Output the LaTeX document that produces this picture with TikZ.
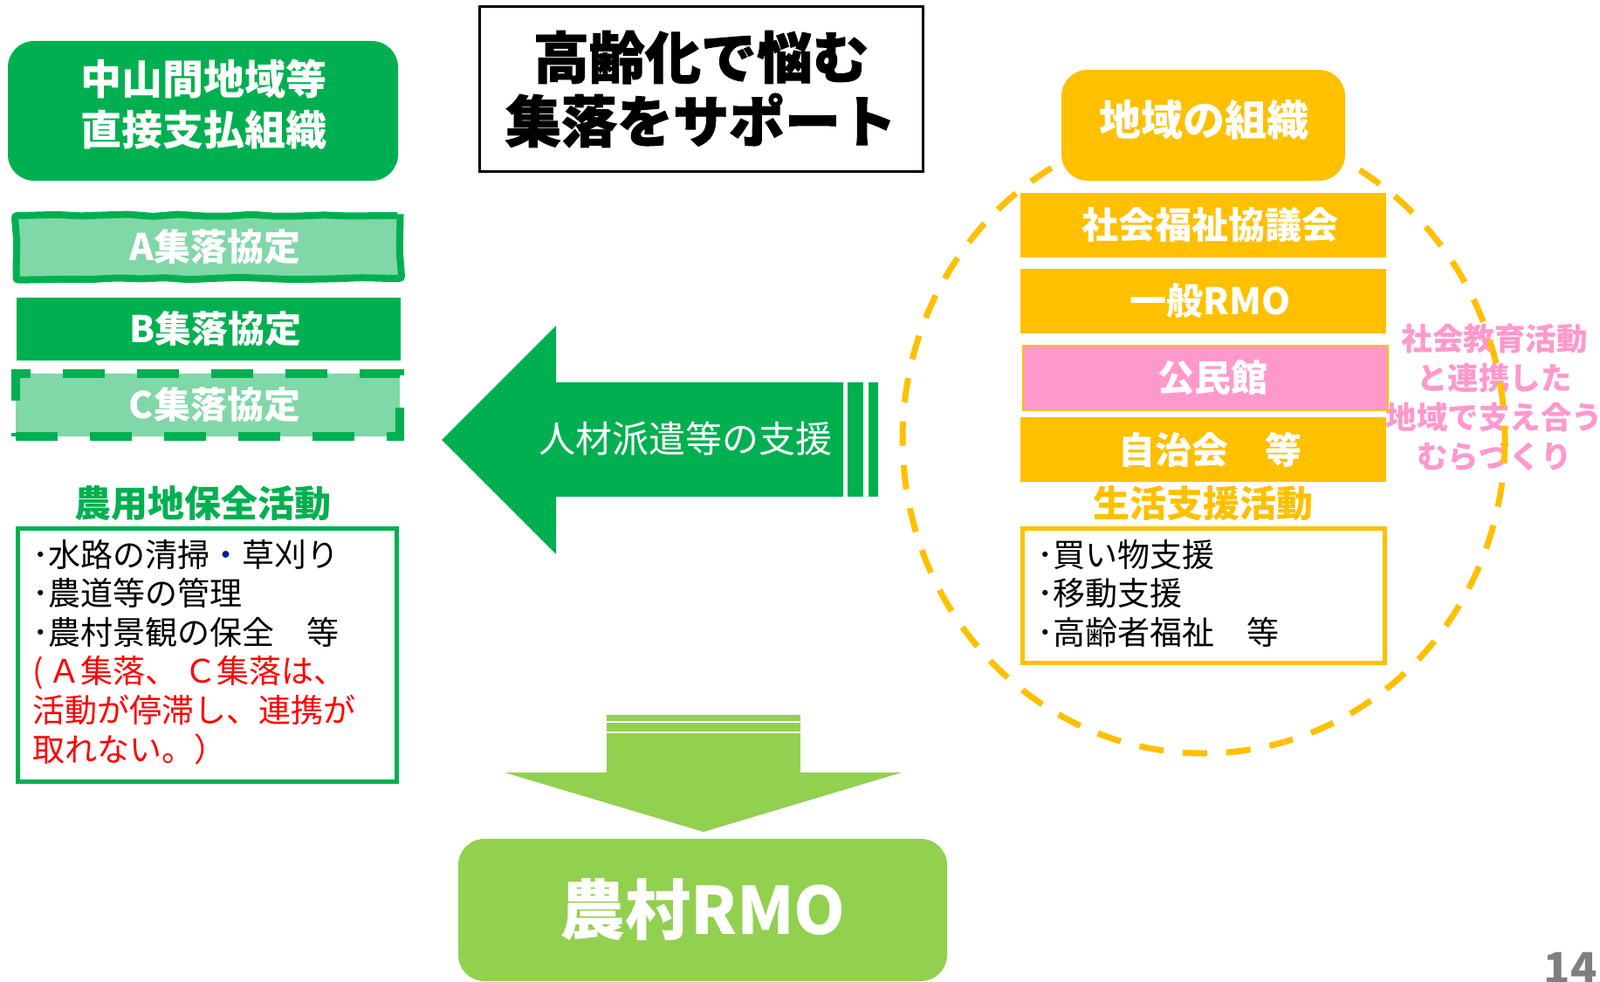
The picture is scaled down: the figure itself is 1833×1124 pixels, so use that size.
\documentclass[tikz,border=0pt]{standalone}
\usepackage{fontspec}
\setmainfont{Noto Sans CJK JP}
\newfontfamily\heavyfont{Noto Sans CJK JP}[BoldFeatures={FakeBold=1.5}]
\usetikzlibrary{decorations.pathmorphing}

\definecolor{kgreen}{HTML}{00B050}
\definecolor{ltgreen}{HTML}{80D7A7}
\definecolor{rmolime}{HTML}{92D050}
\definecolor{chorange}{HTML}{FFC000}
\definecolor{mzpink}{HTML}{FF99CC}
\definecolor{dotblue}{HTML}{002090}
\definecolor{pgray}{HTML}{7F7F7F}
\definecolor{cred}{HTML}{FF0000}

\newcommand\setfs[2]{\fontsize{#1}{#2}\selectfont}

\begin{document}
\begin{tikzpicture}[x=1pt, y=-1pt,
    box/.style = {inner sep=0pt, text=white, font=\bfseries\setfs{42}{42}},
    grnbox/.style = {box, fill=kgreen, rounded corners=30pt},
    kyotei/.style = {box, minimum width=440pt, minimum height=72pt, execute at begin node={\hspace{16pt}}},
    orgbar/.style = {box, fill=chorange, minimum width=419pt, minimum height=74pt, execute at begin node={\hspace{16pt}}},
    head/.style = {inner sep=0pt, font=\bfseries\setfs{42}{42}},
    item/.style = {anchor=base west, inner sep=0pt, font=\setfs{37}{37}}]

    \useasboundingbox (0,0) rectangle (1833,1124);

    % left column
    \node[grnbox, minimum width=447pt, minimum height=160pt] (soshiki) at (232.5,127) {};
    \node[box, align=center, font=\bfseries\setfs{47}{58}] (soshikitxt) at (233,120) {中山間地域等\\直接支払組織};

    \node[kyotei, fill=ltgreen, draw=kgreen, line width=8pt, rounded corners=3pt,
          decorate, decoration={random steps, segment length=28pt, amplitude=1.5pt}] (kyoteiA) at (238.5,283) {A集落協定};
    \node[kyotei, fill=kgreen] (kyoteiB) at (239,377) {B集落協定};
    \node[kyotei, fill=ltgreen, draw=kgreen, line width=10pt, dash pattern=on 48pt off 37pt] (kyoteiC) at (238,463.5) {C集落協定};

    \node[head, text=kgreen] (hozen) at (232,577) {農用地保全活動};
    \node[draw=kgreen, line width=5pt, minimum width=434pt, minimum height=290pt] (hozenbox) at (237.5,750.5) {};
    \node[item] (h1) at (37,649) {･水路の清掃{\color{dotblue}・}草刈り};
    \node[item] (h2) at (37,693.6) {･農道等の管理};
    \node[item] (h3) at (37,738.2) {･農村景観の保全　等};
    \node[item, text=cred] (h4) at (37,782.8) {(\hspace{6pt}Ａ集落、 Ｃ集落は、};
    \node[item, text=cred] (h5) at (37,827.4) {活動が停滞し、連携が};
    \node[item, text=cred] (h6) at (37,872) {取れない。）};

    % title
    \node[draw=black, line width=3pt, minimum width=508pt, minimum height=188pt, align=center, font=\heavyfont\bfseries\setfs{64}{73}] (title) at (803,102) {高齢化で悩む\\集落をサポート};

    % support arrow
    \fill[kgreen] (506,504) -- (637,373) -- (637,438) -- (966,438) -- (966,569) -- (637,569) -- (637,635) -- cycle;
    \fill[kgreen] (971,438) rectangle (989,569);
    \fill[kgreen] (995,438) rectangle (1006,569);
    \node[text=white, inner sep=0pt, font=\setfs{42}{42}] (haken) at (785,503) {人材派遣等の支援};

    % down arrow
    \fill[rmolime] (695,819) rectangle (917,826);
    \fill[rmolime] (695,828) rectangle (917,838);
    \fill[rmolime] (695,840) rectangle (917,886);
    \fill[rmolime] (578,885) -- (1033,885) -- (806,953) -- cycle;
    \node[grnbox, fill=rmolime, minimum width=560pt, minimum height=163pt, font=\bfseries\setfs{75}{75}] (rmo) at (805,1042.5) {農村RMO};

    % right column
    \node[text=mzpink, inner sep=0pt, align=center, font=\bfseries\setfs{35.5}{45}] (murazukuri) at (1712,456) {社会教育活動\\と連携した\\地域で支え合う\\むらづくり};
    \draw[chorange, line width=7pt, dash pattern=on 28pt off 22pt] (1379,503) ellipse [x radius=345, y radius=360];

    \node[grnbox, fill=chorange, minimum width=325pt, minimum height=127pt] (chiiki) at (1378.5,143.5) {};
    \node[box, font=\bfseries\setfs{48}{48}] (chiikitxt) at (1379,137) {地域の組織};
    \node[orgbar] (shakyo) at (1378.5,257.5) {社会福祉協議会};
    \node[orgbar] (ippan) at (1378.5,345) {一般RMO};
    \node[orgbar, fill=mzpink, draw=chorange, line width=2pt, minimum width=418pt] (kominkan) at (1381,432.5) {公民館};
    \node[orgbar] (jichikai) at (1378.5,515) {自治会　等};

    \node[head, text=chorange] (seikatsu) at (1378,577) {生活支援活動};
    \node[draw=chorange, line width=5pt, minimum width=415pt, minimum height=154pt] (seikatsubox) at (1379,682.5) {};
    \node[item] (s1) at (1188,649) {･買い物支援};
    \node[item] (s2) at (1188,693.6) {･移動支援};
    \node[item] (s3) at (1188,738.2) {･高齢者福祉　等};

    \node[anchor=base east, inner sep=0pt, text=pgray, font=\bfseries\setfs{50}{50}] (pageno) at (1830,1127) {14};
\end{tikzpicture}
\end{document}
